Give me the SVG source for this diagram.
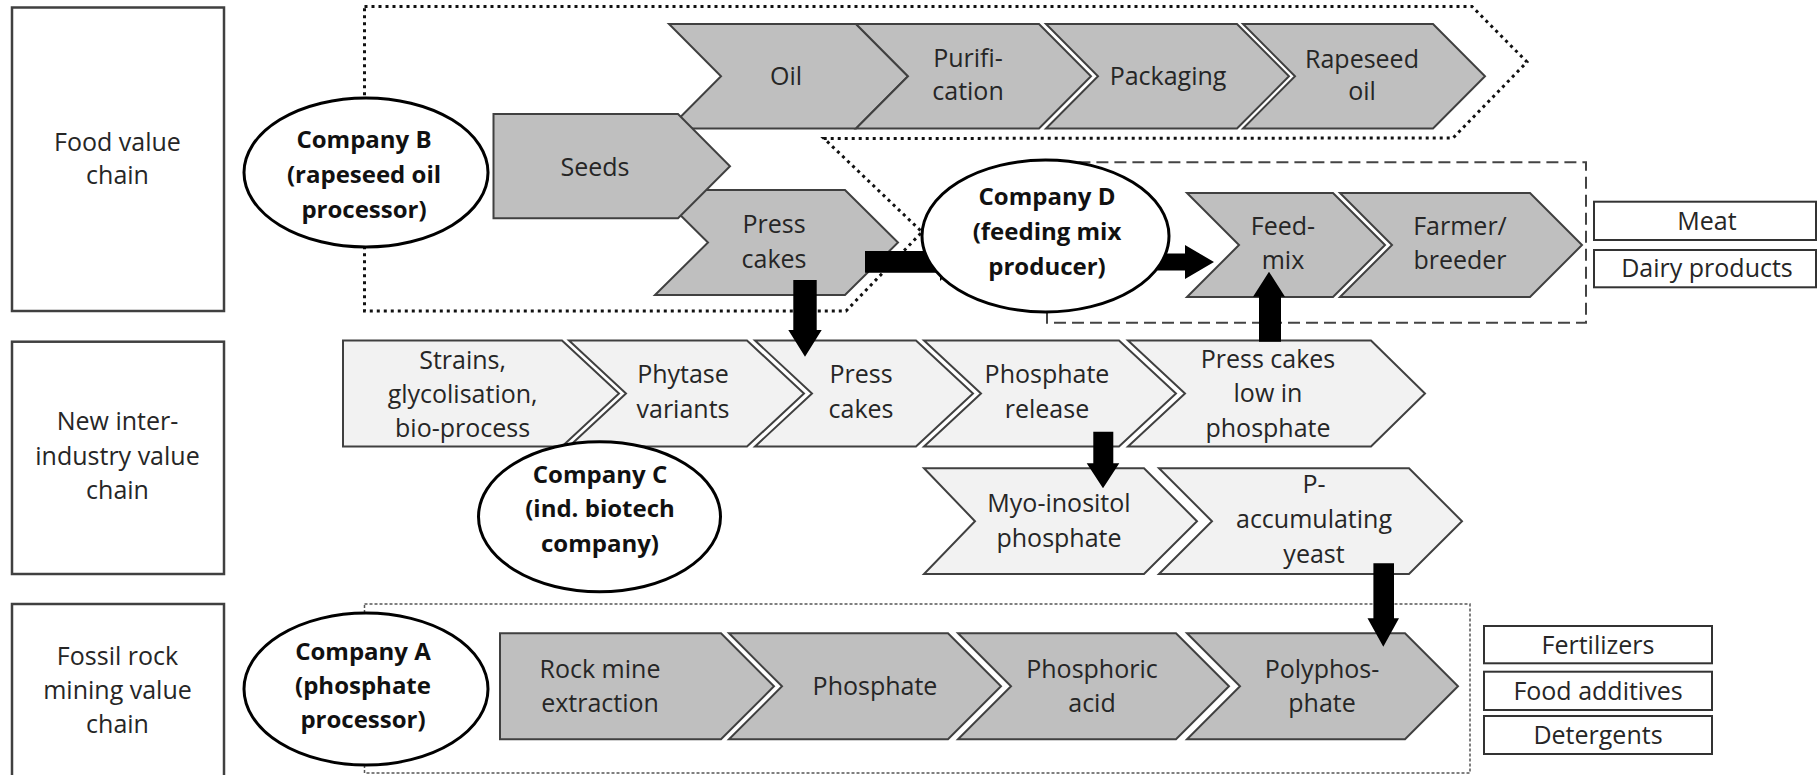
<svg xmlns="http://www.w3.org/2000/svg" width="1818" height="775" viewBox="0 0 1818 775">
<style>
.bg{fill:#ffffff}
.cat{fill:#ffffff;stroke:#404040;stroke-width:2.5}
.dk{fill:#bfbfbf;stroke:#404040;stroke-width:2;stroke-linejoin:miter}
.lt{fill:#f2f2f2;stroke:#404040;stroke-width:2;stroke-linejoin:miter}
.out{fill:#ffffff;stroke:#333333;stroke-width:2}
.ell{fill:#ffffff;stroke:#000000;stroke-width:3}
.dot{fill:none;stroke:#111111;stroke-width:3;stroke-dasharray:3 4}
.dash{fill:none;stroke:#444444;stroke-width:2;stroke-dasharray:12 6}
.fine{fill:none;stroke:#555555;stroke-width:1.5;stroke-dasharray:3 2}
.arr{fill:#000000}
text{font-family:"Open Sans","Liberation Sans",sans-serif;font-size:25px;fill:#262626;text-anchor:middle}
text.b{font-weight:bold;font-size:24px;fill:#111111}
</style>
<rect class="bg" x="0" y="0" width="1818" height="775"/>

<g id="cat-food"><rect class="cat" x="12" y="7.5" width="212" height="303.5"/><text><tspan x="117.5" y="150.5">Food value</tspan><tspan x="117.5" y="184">chain</tspan></text></g>
<g id="cat-new"><rect class="cat" x="12" y="341.7" width="212" height="232.3"/><text><tspan x="117.5" y="430">New inter-</tspan><tspan x="117.5" y="465">industry value</tspan><tspan x="117.5" y="499">chain</tspan></text></g>
<g id="cat-fossil"><rect class="cat" x="12" y="604" width="212" height="190"/><text><tspan x="117.5" y="665">Fossil rock</tspan><tspan x="117.5" y="699">mining value</tspan><tspan x="117.5" y="733">chain</tspan></text></g>

<g id="boundaries">
<path class="dot" d="M364.5,6.5 L1472,6.5 L1527,62 L1453,138 L824,138.5 L922,232 L846,311 L364.5,311 Z"/>
<path class="dash" d="M1047,311.7 L1047,322.7 L1586,322.7 L1586,162.3 L1047,162.3"/>
<path class="fine" d="M364.5,604 L1470,604 L1470,773 L364.5,773 Z"/>
</g>

<g id="n-oil"><path class="dk" d="M669,24 L856,24 L908,76.25 L856,128.5 L669,128.5 L721,76.25 Z"/><text x="786" y="85">Oil</text></g>
<g id="n-purification"><path class="dk" d="M856,24 L1039,24 L1091,76.25 L1039,128.5 L856,128.5 L908,76.25 Z"/><text><tspan x="968" y="66.7">Purifi-</tspan><tspan x="968" y="100">cation</tspan></text></g>
<g id="n-packaging"><path class="dk" d="M1046,24 L1237,24 L1289,76.25 L1237,128.5 L1046,128.5 L1098,76.25 Z"/><text x="1168" y="85">Packaging</text></g>
<g id="n-rapeseed-oil"><path class="dk" d="M1243,24 L1433,24 L1485,76.25 L1433,128.5 L1243,128.5 L1295,76.25 Z"/><text><tspan x="1362" y="68.3">Rapeseed</tspan><tspan x="1362" y="100">oil</tspan></text></g>

<g id="n-presscakes-top"><path class="dk" d="M655,190 L845,190 L898,242.5 L845,295 L655,295 L708,242.5 Z"/><text><tspan x="774" y="233">Press</tspan><tspan x="774" y="268">cakes</tspan></text></g>
<g id="n-seeds"><path class="dk" d="M493.5,114 L678,114 L730,166.2 L678,218.3 L493.5,218.3 Z"/><text x="595" y="176">Seeds</text></g>

<g id="n-feedmix"><path class="dk" d="M1187,193 L1333,193 L1385,245 L1333,297 L1187,297 L1239,245 Z"/><text><tspan x="1283" y="235">Feed-</tspan><tspan x="1283" y="269">mix</tspan></text></g>
<g id="n-farmer"><path class="dk" d="M1340,193 L1530,193 L1582,245 L1530,297 L1340,297 L1392,245 Z"/><text><tspan x="1460" y="235">Farmer/</tspan><tspan x="1460" y="269">breeder</tspan></text></g>

<g id="n-meat"><rect class="out" x="1594" y="201.7" width="222" height="38.3"/><text x="1707" y="230">Meat</text></g>
<g id="n-dairy"><rect class="out" x="1594" y="250" width="222" height="37.3"/><text x="1707" y="277">Dairy products</text></g>

<g id="n-strains"><path class="lt" d="M343,340.5 L562,340.5 L619,393.5 L562,446.5 L343,446.5 Z"/><text><tspan x="462.6" y="369">Strains,</tspan><tspan x="462.6" y="403">glycolisation,</tspan><tspan x="462.6" y="437">bio-process</tspan></text></g>
<g id="n-phytase"><path class="lt" d="M569,340.5 L747,340.5 L804,393.5 L747,446.5 L569,446.5 L626,393.5 Z"/><text><tspan x="683" y="383.3">Phytase</tspan><tspan x="683" y="418.3">variants</tspan></text></g>
<g id="n-presscakes-mid"><path class="lt" d="M755,340.5 L916,340.5 L973,393.5 L916,446.5 L755,446.5 L812,393.5 Z"/><text><tspan x="861" y="383">Press</tspan><tspan x="861" y="418">cakes</tspan></text></g>
<g id="n-phosphate-release"><path class="lt" d="M924,340.5 L1119,340.5 L1176,393.5 L1119,446.5 L924,446.5 L981,393.5 Z"/><text><tspan x="1047" y="383">Phosphate</tspan><tspan x="1047" y="418">release</tspan></text></g>
<g id="n-presscakes-low"><path class="lt" d="M1128,340.5 L1371,340.5 L1425,393.5 L1371,446.5 L1128,446.5 L1185,393.5 Z"/><text><tspan x="1268" y="368.3">Press cakes</tspan><tspan x="1268" y="401.7">low in</tspan><tspan x="1268" y="436.7">phosphate</tspan></text></g>

<g id="n-myo"><path class="lt" d="M924,468.3 L1144,468.3 L1197,521.2 L1144,574 L924,574 L975,521.2 Z"/><text><tspan x="1059" y="511.7">Myo-inositol</tspan><tspan x="1059" y="546.7">phosphate</tspan></text></g>
<g id="n-pacc"><path class="lt" d="M1159,468.3 L1409,468.3 L1462,521.2 L1409,574 L1159,574 L1212,521.2 Z"/><text><tspan x="1314" y="493.3">P-</tspan><tspan x="1314" y="528.3">accumulating</tspan><tspan x="1314" y="563.3">yeast</tspan></text></g>

<g id="n-rockmine"><path class="dk" d="M500,633.3 L721,633.3 L774,686.3 L721,739.3 L500,739.3 Z"/><text><tspan x="600" y="678.3">Rock mine</tspan><tspan x="600" y="711.7">extraction</tspan></text></g>
<g id="n-phosphate"><path class="dk" d="M729,633.3 L948,633.3 L1001,686.3 L948,739.3 L729,739.3 L782,686.3 Z"/><text x="875" y="695">Phosphate</text></g>
<g id="n-phosphoric"><path class="dk" d="M958,633.3 L1176,633.3 L1229,686.3 L1176,739.3 L958,739.3 L1011,686.3 Z"/><text><tspan x="1092" y="678">Phosphoric</tspan><tspan x="1092" y="711.7">acid</tspan></text></g>
<g id="n-polyphosphate"><path class="dk" d="M1187,633.3 L1405,633.3 L1458,686.3 L1405,739.3 L1187,739.3 L1240,686.3 Z"/><text><tspan x="1322" y="678">Polyphos-</tspan><tspan x="1322" y="711.7">phate</tspan></text></g>

<g id="n-fertilizers"><rect class="out" x="1484" y="626" width="228" height="37.3"/><text x="1598" y="653.5">Fertilizers</text></g>
<g id="n-foodadd"><rect class="out" x="1484" y="671.7" width="228" height="38.3"/><text x="1598" y="700">Food additives</text></g>
<g id="n-detergents"><rect class="out" x="1484" y="716" width="228" height="38"/><text x="1598" y="744">Detergents</text></g>

<g id="connectors">
<polygon class="arr" points="865,251 940,251 940,243 960,262 940,281 940,272.7 865,272.7"/>
<polygon class="arr" points="1150,253.5 1185,253.5 1185,245 1214,262 1185,279 1185,270.5 1150,270.5"/>
<polygon class="arr" points="793.3,280 816.7,280 816.7,330 821.7,330 805,356.7 788.3,330 793.3,330"/>
<polygon class="arr" points="1093.3,431.7 1113.3,431.7 1113.3,463.3 1119.3,463.3 1103,488.3 1086.7,463.3 1093.3,463.3"/>
<polygon class="arr" points="1373.4,563.3 1394,563.3 1394,618.3 1399,618.3 1383.3,646.7 1367.5,618.3 1373.4,618.3"/>
<polygon class="arr" points="1259,341.7 1281,341.7 1281,296.7 1285,296.7 1269,271.7 1253,296.7 1259,296.7"/>
</g>

<g id="company-b"><ellipse class="ell" cx="366" cy="172.5" rx="122" ry="74.5"/><text class="b"><tspan x="364" y="148.3">Company B</tspan><tspan x="364" y="183">(rapeseed oil</tspan><tspan x="364" y="218">processor)</tspan></text></g>
<g id="company-d"><ellipse class="ell" cx="1045.5" cy="236" rx="123.5" ry="76"/><text class="b"><tspan x="1047" y="205">Company D</tspan><tspan x="1047" y="240">(feeding mix</tspan><tspan x="1047" y="275">producer)</tspan></text></g>
<g id="company-c"><ellipse class="ell" cx="599.5" cy="516.7" rx="121" ry="75"/><text class="b"><tspan x="600" y="483.3">Company C</tspan><tspan x="600" y="517">(ind. biotech</tspan><tspan x="600" y="552">company)</tspan></text></g>
<g id="company-a"><ellipse class="ell" cx="366" cy="689" rx="122" ry="76"/><text class="b"><tspan x="363" y="660">Company A</tspan><tspan x="363" y="694">(phosphate</tspan><tspan x="363" y="728">processor)</tspan></text></g>
</svg>
